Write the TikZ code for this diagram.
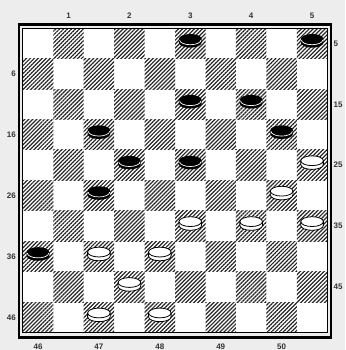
\documentclass[tikz,border=0pt]{standalone}
\usepackage{fontspec}
\setsansfont{Liberation Sans}
\usetikzlibrary{patterns.meta}

\begin{document}
\begin{tikzpicture}[
    x=1pt, y=1pt,
    darksq/.style={
        pattern={Lines[angle=45, distance=2.8pt, line width=1.2pt]},
        pattern color=black!85
    },
    lbl/.style={
        inner sep=0pt,
        text=black!80,
        font=\sffamily\bfseries\fontsize{8}{9}\selectfont
    },
    bpiece/.pic={
        \fill[black] (-11.3,2) -- (-11.3,-1.8)
            arc[start angle=180, end angle=360, x radius=11.3, y radius=4.9]
            -- (11.3,2) arc[start angle=0, end angle=180, x radius=11.3, y radius=4.9] -- cycle;
        \draw[white, line width=0.7pt] (-10.7,1.0)
            arc[start angle=180, end angle=360, x radius=10.7, y radius=4.8];
    },
    wpiece/.pic={
        \filldraw[fill=white, draw=black, line width=0.8pt] (-11.3,2) -- (-11.3,-1.8)
            arc[start angle=180, end angle=360, x radius=11.3, y radius=4.9]
            -- (11.3,2) arc[start angle=0, end angle=180, x radius=11.3, y radius=4.9] -- cycle;
        \draw[line width=0.8pt] (-11.3,2)
            arc[start angle=180, end angle=360, x radius=11.3, y radius=4.9];
    }
]

% Paper and frame
\fill[black!7] (0,0) rectangle (345,350);
\useasboundingbox (0,0) rectangle (345,350);
\coordinate (nw) at (22.8,321.8);
\coordinate (se) at (327.3,17.3);
\fill[white] (nw) rectangle (se);
\draw[line width=2.3pt] (19.2,325.5) rectangle (331,12.5);

% Squares
\foreach \r in {1,...,10}
    \foreach \c in {1,...,10} {
        \pgfmathtruncatemacro{\odd}{mod(\r+\c,2)}
        \ifnum\odd=1
            \fill[darksq] ({22.8+(\c-1)*30.45},{321.8-(\r-1)*30.45}) rectangle ++(30.45,-30.45);
        \fi
    }
\draw[line width=0.7pt] (nw) rectangle (se);

% Black pieces
\foreach \c/\r in {6/1, 10/1, 6/3, 8/3, 3/4, 9/4, 4/5, 6/5, 3/6, 1/8}
    \pic at ({22.8+(\c-0.5)*30.45},{321.8-(\r-0.5)*30.45+2.5}) {bpiece};

% White pieces
\foreach \c/\r in {10/5, 9/6, 6/7, 8/7, 10/7, 3/8, 5/8, 4/9, 3/10, 5/10}
    \pic at ({22.8+(\c-0.5)*30.45},{321.8-(\r-0.5)*30.45+2.5}) {wpiece};

% Numbers
\foreach \i in {1,...,5}
    \node[lbl] (top\i) at ({22.8+(2*\i-0.5)*30.45},334.5) {\i};
\foreach \i [evaluate=\i as \n using int(45+\i)] in {1,...,5}
    \node[lbl] (bot\i) at ({22.8+(2*\i-1.5)*30.45},3) {\n};
\foreach \i [evaluate=\i as \n using int(10*\i-4)] in {1,...,5}
    \node[lbl, anchor=east] (left\i) at (16,{321.8-(2*\i-0.5)*30.45}) {\n};
\foreach \i [evaluate=\i as \n using int(10*\i-5)] in {1,...,5}
    \node[lbl, anchor=west] (right\i) at (333.5,{321.8-(2*\i-1.5)*30.45}) {\n};

\end{tikzpicture}
\end{document}
